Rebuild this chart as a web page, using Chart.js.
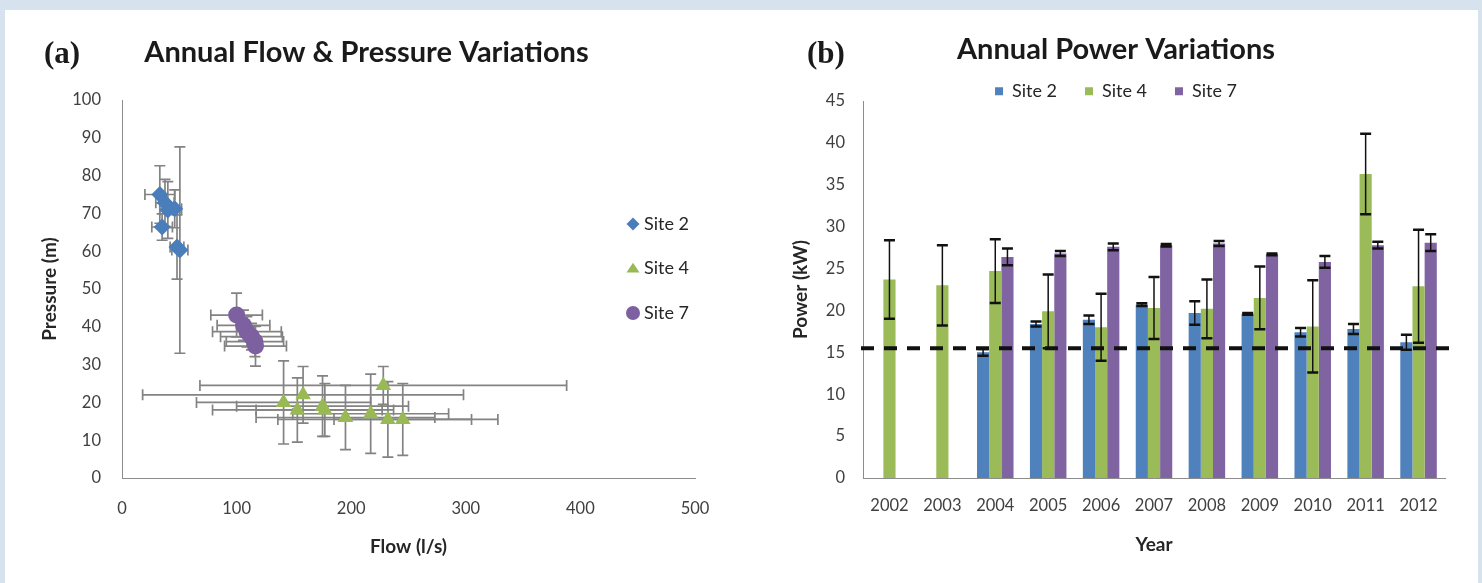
<!DOCTYPE html>
<html>
<head>
<meta charset="utf-8">
<title>Annual Flow, Pressure and Power Variations</title>
<script src="https://cdn.jsdelivr.net/npm/chart.js@4.4.1/dist/chart.umd.min.js"></script>
<style>
  html, body { margin: 0; padding: 0; }
  body { width: 1482px; height: 583px; background: #d6e3ef; position: relative; overflow: hidden; }
  #panel { position: absolute; left: 5px; top: 10px; width: 1473px; height: 573px; background: #ffffff; }
  #wrapA { position: absolute; left: 0; top: 0; width: 740px; height: 583px; }
  #wrapB { position: absolute; left: 740px; top: 0; width: 742px; height: 583px; }
  canvas { display: block; }
</style>
</head>
<body>
<div id="panel"></div>
<div id="wrapA"><canvas id="flowChart" width="740" height="583"></canvas></div>
<div id="wrapB"><canvas id="powerChart" width="742" height="583"></canvas></div>
<script>
// ---- (a) annual mean flow vs. pressure, with +/- one standard deviation ----
const siteNames = ['Site 2', 'Site 4', 'Site 7'];

const site2Flow        = [33, 37.5, 40, 46, 35, 48, 50.5];
const site2Pressure    = [75, 72.8, 70.9, 71.2, 66.4, 61.1, 60.3];
const site2FlowErr     = [13, 8, 7, 6, 9, 6, 7];
const site2PressureErr = [7.6, 6.2, 7.5, 5, 3.5, 8.5, 27.3];

const site4Flow        = [141, 153, 158, 175, 177, 195, 217, 228, 232, 245];
const site4Pressure    = [20, 18, 22, 19, 18, 16, 17, 24.5, 15.5, 15.5];
const site4FlowErr     = [76, 74, 140, 75, 60, 78, 68, 160, 96, 60];
const site4PressureErr = [11, 8.5, 7.5, 8, 7, 8.5, 10.5, 5, 10, 9.5];

const site7Flow        = [100, 106, 109, 113, 116, 116.5];
const site7Pressure    = [43.1, 40.4, 38.7, 37.4, 36.1, 34.9];
const site7FlowErr     = [22.5, 23, 30, 27, 25, 27];
const site7PressureErr = [5.8, 4, 4, 3.5, 4, 5.3];

// ---- (b) annual mean power per site, with +/- one standard deviation ----
const years         = ['2002', '2003', '2004', '2005', '2006', '2007', '2008', '2009', '2010', '2011', '2012'];
const site2Power    = [null, null, 15.0, 18.4, 18.9, 20.7, 19.7, 19.6, 17.4, 17.8, 16.2];
const site2PowerErr = [null, null, 0.4, 0.3, 0.5, 0.15, 1.4, 0.1, 0.5, 0.6, 0.9];
const site4Power    = [23.7, 23.0, 24.7, 19.9, 18.0, 20.3, 20.2, 21.5, 18.1, 36.3, 22.9];
const site4PowerErr = [4.7, 4.8, 3.8, 4.4, 4.0, 3.7, 3.5, 3.75, 5.5, 4.8, 6.75];
const site7Power    = [null, null, 26.4, 26.8, 27.6, 27.8, 28.0, 26.7, 25.8, 27.8, 28.1];
const site7PowerErr = [null, null, 1.0, 0.3, 0.4, 0.15, 0.3, 0.1, 0.7, 0.4, 1.0];
const powerThreshold = 15.5;

const FONT = 'Lato';
const markerColors = ['#4a7ebb', '#98b954', '#7d60a0'];
const barColors    = ['#4f81bd', '#9bbb59', '#8064a2'];

function points(xs, ys, xe, ye) {
  return xs.map((x, i) => ({ x: x, y: ys[i], xErr: xe[i], yErr: ye[i] }));
}

// Draws a marker shape used by the scatter legend
function drawMarker(ctx, style, x, y, r) {
  ctx.beginPath();
  if (style === 'rectRot') {
    ctx.moveTo(x, y - r); ctx.lineTo(x + r, y); ctx.lineTo(x, y + r); ctx.lineTo(x - r, y);
    ctx.closePath();
  } else if (style === 'triangle') {
    const h = r * 1.5;
    ctx.moveTo(x, y - h * 0.6); ctx.lineTo(x + r, y + h * 0.4); ctx.lineTo(x - r, y + h * 0.4);
    ctx.closePath();
  } else {
    ctx.arc(x, y, r, 0, Math.PI * 2);
  }
  ctx.fill();
}

// Cross-shaped error bars behind the scatter markers
const scatterErrorBars = {
  id: 'scatterErrorBars',
  beforeDatasetsDraw(chart, args, opts) {
    const { ctx } = chart;
    const xs = chart.scales.x, ys = chart.scales.y;
    ctx.save();
    ctx.strokeStyle = opts.color;
    ctx.lineWidth = opts.width;
    const c = opts.cap;
    chart.data.datasets.forEach(ds => {
      ds.data.forEach(p => {
        const px = xs.getPixelForValue(p.x), py = ys.getPixelForValue(p.y);
        const x0 = xs.getPixelForValue(p.x - p.xErr), x1 = xs.getPixelForValue(p.x + p.xErr);
        const y0 = ys.getPixelForValue(p.y - p.yErr), y1 = ys.getPixelForValue(p.y + p.yErr);
        ctx.beginPath();
        ctx.moveTo(px, y0); ctx.lineTo(px, y1);
        ctx.moveTo(px - c, y0); ctx.lineTo(px + c, y0);
        ctx.moveTo(px - c, y1); ctx.lineTo(px + c, y1);
        ctx.moveTo(x0, py); ctx.lineTo(x1, py);
        ctx.moveTo(x0, py - c); ctx.lineTo(x0, py + c);
        ctx.moveTo(x1, py - c); ctx.lineTo(x1, py + c);
        ctx.stroke();
      });
    });
    ctx.restore();
  }
};

// Vertical error bars on top of the grouped bars
const barErrorBars = {
  id: 'barErrorBars',
  afterDatasetsDraw(chart, args, opts) {
    const { ctx } = chart;
    const ys = chart.scales.y;
    ctx.save();
    ctx.strokeStyle = opts.color;
    chart.data.datasets.forEach((ds, i) => {
      const meta = chart.getDatasetMeta(i);
      ds.data.forEach((v, j) => {
        const e = ds.errors[j];
        if (v === null || e === null) return;
        const bx = meta.data[j].x;
        const yTop = ys.getPixelForValue(v + e), yBot = ys.getPixelForValue(v - e);
        ctx.lineWidth = opts.width;
        ctx.beginPath();
        ctx.moveTo(bx, yTop); ctx.lineTo(bx, yBot);
        ctx.stroke();
        ctx.lineWidth = opts.capWidth;
        ctx.beginPath();
        ctx.moveTo(bx - opts.cap, yTop); ctx.lineTo(bx + opts.cap, yTop);
        ctx.moveTo(bx - opts.cap, yBot); ctx.lineTo(bx + opts.cap, yBot);
        ctx.stroke();
      });
    });
    ctx.restore();
  }
};

// Dashed reference line at the minimum power level
const thresholdLine = {
  id: 'thresholdLine',
  afterDatasetsDraw(chart, args, opts) {
    const { ctx, chartArea } = chart;
    const y = chart.scales.y.getPixelForValue(opts.value);
    ctx.save();
    ctx.strokeStyle = opts.color;
    ctx.lineWidth = opts.width;
    ctx.setLineDash(opts.dash);
    ctx.beginPath();
    ctx.moveTo(chartArea.left - 2, y);
    ctx.lineTo(chartArea.right + 5, y);
    ctx.stroke();
    ctx.restore();
  }
};

// Panel letter in the upper left corner
const panelLabel = {
  id: 'panelLabel',
  afterDraw(chart, args, opts) {
    const { ctx } = chart;
    ctx.save();
    ctx.font = 'bold 31px "Liberation Serif"';
    ctx.fillStyle = '#1a1a1a';
    ctx.textBaseline = 'middle';
    ctx.textAlign = 'left';
    ctx.fillText(opts.text, opts.x, opts.y);
    ctx.restore();
  }
};

// Vertical marker legend for the scatter panel
const markerLegend = {
  id: 'markerLegend',
  afterDraw(chart, args, opts) {
    const { ctx } = chart;
    ctx.save();
    ctx.font = '18px ' + FONT;
    ctx.textBaseline = 'middle';
    ctx.textAlign = 'left';
    chart.data.datasets.forEach((ds, i) => {
      const y = opts.y + i * opts.gap;
      ctx.fillStyle = ds.backgroundColor;
      drawMarker(ctx, ds.pointStyle, opts.x, y, ds.pointStyle === 'circle' ? 7 : 6.5);
      ctx.fillStyle = '#262626';
      ctx.fillText(ds.label, opts.x + 11, y);
    });
    ctx.restore();
  }
};

const tickFont = { family: FONT, size: 16.5 };
const axisTitleFont = { family: FONT, size: 19, weight: 'bold' };
const axisBorder = { display: true, color: '#8c8c8c', width: 1 };

new Chart(document.getElementById('flowChart'), {
  type: 'scatter',
  data: {
    datasets: [
      { label: siteNames[0], data: points(site2Flow, site2Pressure, site2FlowErr, site2PressureErr),
        pointStyle: 'rectRot', pointRadius: 8.5, backgroundColor: markerColors[0], borderWidth: 0 },
      { label: siteNames[1], data: points(site4Flow, site4Pressure, site4FlowErr, site4PressureErr),
        pointStyle: 'triangle', pointRadius: 9, backgroundColor: markerColors[1], borderWidth: 0 },
      { label: siteNames[2], data: points(site7Flow, site7Pressure, site7FlowErr, site7PressureErr),
        pointStyle: 'circle', pointRadius: 8.5, backgroundColor: markerColors[2], borderWidth: 0 }
    ]
  },
  options: {
    responsive: false,
    animation: false,
    layout: { padding: { left: 38, right: 45, top: 0, bottom: 0 } },
    plugins: {
      legend: { display: false },
      tooltip: { enabled: false },
      title: {
        display: true, text: 'Annual Flow & Pressure Variations', color: '#1a1a1a',
        font: { family: FONT, size: 29, weight: 'bold', lineHeight: 1.2 },
        padding: { top: 35.6, bottom: 29.6 }
      },
      scatterErrorBars: { color: '#838383', width: 1.7, cap: 5.5 },
      panelLabel: { text: '(a)', x: 44, y: 55 },
      markerLegend: { x: 633, y: 224, gap: 44.5 }
    },
    scales: {
      x: {
        type: 'linear', min: 0, max: 500,
        ticks: { stepSize: 100, padding: 21, color: '#404040', font: tickFont },
        grid: { display: false, drawTicks: false },
        border: axisBorder,
        title: { display: true, text: 'Flow (l/s)', color: '#262626', font: axisTitleFont, padding: { top: 0, bottom: 24.6 } },
        afterFit(scale) { scale.height = 105; }
      },
      y: {
        min: 0, max: 100,
        ticks: { stepSize: 10, padding: 21, color: '#404040', font: tickFont },
        grid: { display: false, drawTicks: false },
        border: axisBorder,
        title: { display: true, text: 'Pressure (m)', color: '#262626', font: axisTitleFont, padding: { top: 0, bottom: 0 } },
        afterFit(scale) { scale.width = 84; }
      }
    }
  },
  plugins: [scatterErrorBars, panelLabel, markerLegend]
});

new Chart(document.getElementById('powerChart'), {
  type: 'bar',
  data: {
    labels: years,
    datasets: [
      { label: siteNames[0], data: site2Power, errors: site2PowerErr, backgroundColor: barColors[0] },
      { label: siteNames[1], data: site4Power, errors: site4PowerErr, backgroundColor: barColors[1] },
      { label: siteNames[2], data: site7Power, errors: site7PowerErr, backgroundColor: barColors[2] }
    ]
  },
  options: {
    responsive: false,
    animation: false,
    datasets: { bar: { categoryPercentage: 0.69, barPercentage: 1.0, borderWidth: 0 } },
    layout: { padding: { left: 47, right: 37, top: 0, bottom: 0 } },
    plugins: {
      tooltip: { enabled: false },
      title: {
        display: true, text: 'Annual Power Variations', color: '#1a1a1a',
        font: { family: FONT, size: 29, weight: 'bold', lineHeight: 0.3 },
        padding: { top: 45.6, bottom: 0 }
      },
      legend: {
        display: true, position: 'top', maxHeight: 46.8,
        labels: { boxWidth: 8, boxHeight: 8, padding: 28, color: '#262626', font: { family: FONT, size: 18 } }
      },
      barErrorBars: { color: '#111111', width: 1.5, capWidth: 2.5, cap: 5.5 },
      thresholdLine: { value: powerThreshold, color: '#111111', width: 4, dash: [13, 10] },
      panelLabel: { text: '(b)', x: 67, y: 55 }
    },
    scales: {
      x: {
        ticks: { padding: 18, color: '#404040', font: tickFont },
        grid: { display: false, drawTicks: false },
        border: axisBorder,
        title: { display: true, text: 'Year', color: '#262626', font: axisTitleFont, padding: { top: 0, bottom: 26.6 } },
        afterFit(scale) { scale.height = 105; }
      },
      y: {
        min: 0, max: 45,
        ticks: { stepSize: 5, padding: 18, color: '#404040', font: tickFont },
        grid: { display: false, drawTicks: false },
        border: axisBorder,
        title: { display: true, text: 'Power (kW)', color: '#262626', font: axisTitleFont, padding: { top: 2, bottom: 0 } },
        afterFit(scale) { scale.width = 76; }
      }
    }
  },
  plugins: [barErrorBars, thresholdLine, panelLabel]
});
</script>
</body>
</html>
